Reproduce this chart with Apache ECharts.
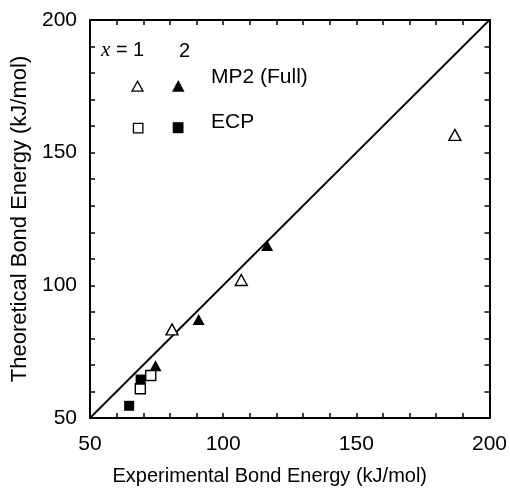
<!DOCTYPE html>
<html>
<head>
<meta charset="utf-8">
<script src="https://cdn.jsdelivr.net/npm/echarts@6/dist/echarts.min.js"></script>
<style>
html,body{margin:0;padding:0;background:#fff;}
#chart{width:510px;height:491px;}
</style>
</head>
<body>
<div id="chart"></div>
<script>
// Data
const tickLabels = [50, 100, 150, 200];
const diagonal = [[50, 50], [200, 200]];
const mp2X1 = [[80.8, 83.4], [106.8, 102.0], [187.0, 156.7]];   // open triangles
const mp2X2 = [[74.6, 69.7], [90.8, 87.1], [116.5, 115.0]];     // filled triangles
const ecpX1 = [[68.9, 61.0], [72.8, 66.0]];                     // open squares
const ecpX2 = [[64.7, 54.6], [69.0, 64.5]];                     // filled squares
const xTitle = 'Experimental Bond Energy (kJ/mol)';
const yTitle = 'Theoretical Bond Energy (kJ/mol)';

const FONT = '"Liberation Sans", Arial, Helvetica, sans-serif';
const chart = echarts.init(document.getElementById('chart'), null, {renderer: 'canvas'});

const fmt = v => tickLabels.indexOf(Math.round(v)) >= 0 ? String(Math.round(v)) : '';
function axisBase(extra) {
  return Object.assign({
    type: 'value', min: 50, max: 200, interval: 10,
    axisLine: {show: true, onZero: false, lineStyle: {color: '#000', width: 2}},
    axisTick: {show: true, inside: true, length: 5, lineStyle: {color: '#000', width: 1.5}},
    splitLine: {show: false}
  }, extra);
}

const openStyle = {color: '#fff', borderColor: '#000', borderWidth: 1.4, opacity: 1};
const fillStyle = {color: '#000', opacity: 1};

chart.setOption({
  animation: false,
  backgroundColor: '#fff',
  grid: {left: 90, right: 19, top: 20, bottom: 68, containLabel: false},
  xAxis: [
    axisBase({
      position: 'bottom',
      name: xTitle, nameLocation: 'middle', nameGap: 48,
      nameTextStyle: {fontFamily: FONT, fontSize: 20, color: '#000', padding: [0, 40, 0, 0]},
      axisLabel: {formatter: fmt, fontFamily: FONT, fontSize: 21, color: '#000', margin: 16}
    }),
    axisBase({position: 'top', axisLabel: {show: false}})
  ],
  yAxis: [
    axisBase({
      position: 'left',
      name: yTitle, nameLocation: 'middle', nameGap: 51,
      nameTextStyle: {fontFamily: FONT, fontSize: 22, color: '#000'},
      axisLabel: {formatter: fmt, fontFamily: FONT, fontSize: 21, color: '#000', margin: 13}
    }),
    axisBase({position: 'right', axisLabel: {show: false}})
  ],
  series: [
    {type: 'line', data: diagonal, symbol: 'none', z: 1,
     lineStyle: {color: '#000', width: 1.8}},
    {type: 'scatter', data: mp2X1, symbol: 'triangle', symbolSize: [12, 11], z: 3, itemStyle: openStyle},
    {type: 'scatter', data: mp2X2, symbol: 'triangle', symbolSize: [12, 11], z: 3, itemStyle: fillStyle},
    {type: 'scatter', data: ecpX1, symbol: 'rect', symbolSize: 10, z: 3, itemStyle: openStyle},
    {type: 'scatter', data: ecpX2, symbol: 'rect', symbolSize: 10, z: 3, itemStyle: fillStyle}
  ],
  graphic: [
    {type: 'text', left: 101, top: 40, style: {
      text: '{i|x}{n| = 1}',
      rich: {
        i: {fontFamily: '"Liberation Serif", "Times New Roman", serif', fontStyle: 'italic', fontSize: 21, fill: '#000'},
        n: {fontFamily: FONT, fontSize: 20, fill: '#000'}
      }}},
    {type: 'text', left: 179, top: 41, style: {text: '2', fontFamily: FONT, fontSize: 20, fill: '#000'}},
    {type: 'polygon', shape: {points: [[137.5, 81.2], [132, 91.2], [143, 91.2]]},
     style: {fill: '#fff', stroke: '#000', lineWidth: 1.3}},
    {type: 'polygon', shape: {points: [[178.3, 80], [172, 91.7], [184.6, 91.7]]},
     style: {fill: '#000'}},
    {type: 'rect', shape: {x: 133.4, y: 123.4, width: 9.5, height: 9.5},
     style: {fill: '#fff', stroke: '#000', lineWidth: 1.3}},
    {type: 'rect', shape: {x: 172.7, y: 122.2, width: 10.8, height: 11},
     style: {fill: '#000'}},
    {type: 'text', left: 211, top: 67, style: {text: 'MP2 (Full)', fontFamily: FONT, fontSize: 21, fill: '#000'}},
    {type: 'text', left: 211, top: 112, style: {text: 'ECP', fontFamily: FONT, fontSize: 21, fill: '#000'}}
  ]
});
</script>
</body>
</html>
